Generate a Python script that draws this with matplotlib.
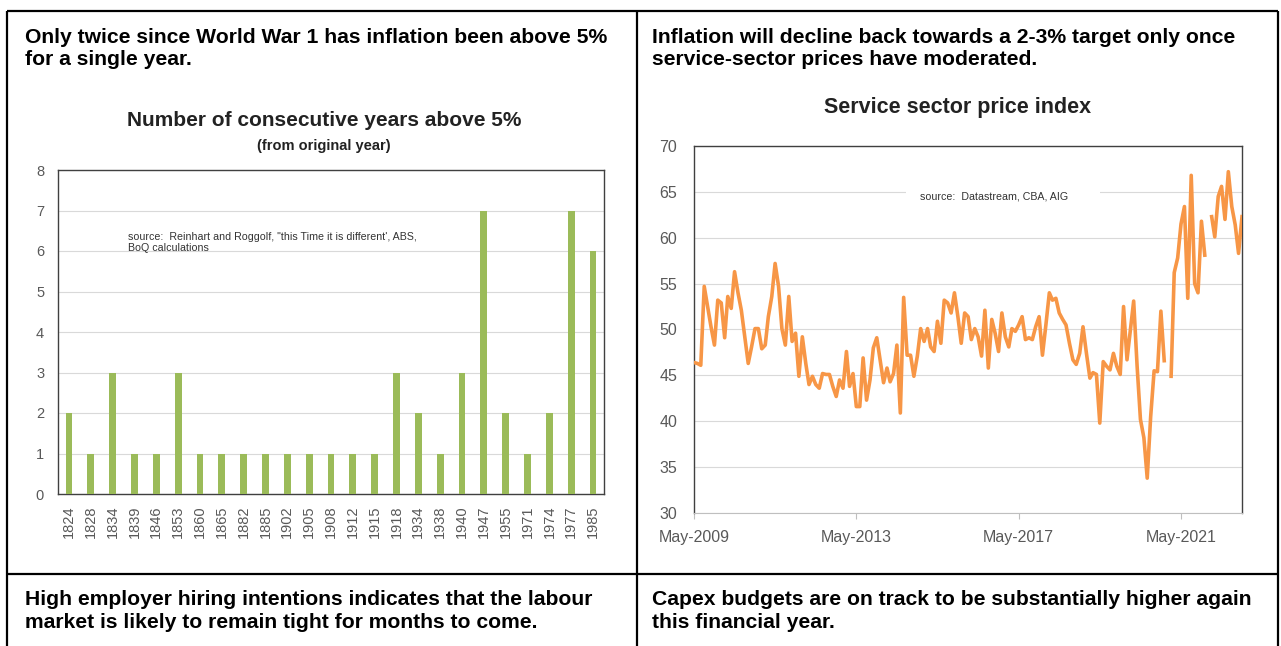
import numpy as np
import pandas as pd
import matplotlib
matplotlib.use("Agg")
import matplotlib.pyplot as plt
import matplotlib.dates as mdates
from matplotlib.patches import Rectangle

plt.rcParams["font.family"] = ["Liberation Sans", "DejaVu Sans"]

W, H = 1281, 646
GRID = "#D9D9D9"
TICK = "#595959"

# ---- left chart: consecutive years above 5% ----
start_years = ["1824", "1828", "1834", "1839", "1846", "1853", "1860", "1865", "1882",
               "1885", "1902", "1905", "1908", "1912", "1915", "1918", "1934", "1938",
               "1940", "1947", "1955", "1971", "1974", "1977", "1985"]
years_above = [2, 1, 3, 1, 1, 3, 1, 1, 1, 1, 1, 1, 1, 1, 1, 3, 2, 1, 3, 7, 2, 1, 2, 7, 6]

# ---- right chart: service sector price index (monthly from May-2009) ----
svc_start = "2009-05-01"
svc_index = [
    46.4, 46.3, 46.1, 54.7, 52.5, 50.3, 48.3, 53.2, 52.9, 49.1, 53.6, 52.3, 56.3, 54.0,
    52.1, 49.2, 46.3, 48.1, 50.1, 50.1, 47.9, 48.3, 51.4, 53.6, 57.2, 54.7, 50.1, 48.3,
    53.6, 48.7, 49.6, 44.9, 49.2, 46.3, 44.0, 44.9, 44.0, 43.6, 45.2, 45.1, 45.1, 43.8,
    42.7, 44.5, 43.6, 47.6, 43.8, 45.2, 41.6, 41.6, 46.9, 42.3, 44.5, 48.0, 49.1, 46.7,
    44.2, 45.8, 44.3, 45.2, 48.3, 40.9, 53.5, 47.2, 47.2, 44.9, 47.1, 50.1, 48.7, 50.1,
    48.1, 47.6, 50.9, 48.5, 53.2, 52.9, 51.8, 54.0, 51.4, 48.5, 51.8, 51.4, 48.9,
    50.1, 49.2, 47.1, 52.1, 45.8, 51.1, 49.6, 47.6, 51.8, 49.2, 48.1, 50.1, 49.8, 50.5,
    51.4, 48.9, 49.1, 48.9, 50.3, 51.4, 47.2, 50.5, 54.0, 53.2, 53.4, 51.8, 51.1, 50.5,
    48.5, 46.7, 46.2, 47.4, 50.3, 47.4, 44.7, 45.3, 45.1, 39.8,
    46.5, 46.0, 45.6, 47.4, 46.0, 45.1, 52.5, 46.7, 50.0, 53.1, 46.0, 40.2, 38.2, 33.8,
    40.5, 45.5, 45.4, 52.0, 46.6, np.nan, 44.9, 56.2, 57.8, 61.5, 63.4, 53.4, 66.8, 55.0,
    54.0, 61.8, 58.1, np.nan, 62.3, 60.1, 64.5, 65.6, 62.0, 67.2, 63.4, 61.4, 58.3, 62.3,
]
svc_ticks = ["2009-05-01", "2013-05-01", "2017-05-01", "2021-05-01"]

headers = [
    (25, 48.5, "Only twice since World War 1 has inflation been above 5%\nfor a single year."),
    (652, 48.5, "Inflation will decline back towards a 2-3% target only once\nservice-sector prices have moderated."),
    (25, 611, "High employer hiring intentions indicates that the labour\nmarket is likely to remain tight for months to come."),
    (652, 611, "Capex budgets are on track to be substantially higher again\nthis financial year."),
]


def px_axes(fig, x0, y0, x1, y1):
    return fig.add_axes([x0 / W, 1 - y1 / H, (x1 - x0) / W, (y1 - y0) / H])


fig = plt.figure(figsize=(W / 100, H / 100), dpi=100)
fig.patch.set_facecolor("white")

# page frame and text cells
bg = fig.add_axes([0, 0, 1, 1])
bg.set_xlim(0, W)
bg.set_ylim(H, 0)
bg.axis("off")
frame = dict(color="black", lw=1.6, solid_capstyle="butt")
bg.plot([7, 1278], [11, 11], **frame)
bg.plot([7, 1278], [574, 574], **frame)
bg.plot([7, 7], [11, H], **frame)
bg.plot([637, 637], [11, H], **frame)
bg.plot([1278, 1278], [11, H], **frame)
for x, y, txt in headers:
    bg.text(x, y, txt, fontsize=15.2, fontweight="bold", va="center", ha="left",
            linespacing=1.22)

# ---- bar chart ----
bg.text(324, 121, "Number of consecutive years above 5%", fontsize=15,
        fontweight="bold", ha="center", va="center", color="#222222")
bg.text(324, 146, "(from original year)", fontsize=10.5,
        fontweight="bold", ha="center", va="center", color="#222222")

ax1 = px_axes(fig, 58, 170, 604, 494)
pos = np.arange(len(start_years))
ax1.bar(pos, years_above, width=0.31, color="#9BBB59", zorder=3)
ax1.set_xlim(-0.5, len(start_years) - 0.5)
ax1.set_ylim(0, 8)
ax1.set_yticks(range(0, 9))
ax1.set_xticks(pos)
ax1.set_xticklabels(start_years, rotation=90)
ax1.tick_params(axis="both", length=0, colors=TICK, labelsize=10.5)
ax1.tick_params(axis="y", pad=10)
ax1.tick_params(axis="x", pad=8)
ax1.grid(axis="y", color=GRID, lw=0.8)
ax1.set_axisbelow(True)
for side in ["top", "right", "left", "bottom"]:
    ax1.spines[side].set_color("#404040")
    ax1.spines[side].set_linewidth(1.0)
ax1.text(0.128, 0.81, "source:  Reinhart and Roggolf, \"this Time it is different', ABS,\nBoQ calculations",
         transform=ax1.transAxes, fontsize=7.7, color="#333333", va="top", ha="left",
         linespacing=1.2)

# ---- line chart ----
bg.text(958, 107, "Service sector price index", fontsize=15.5,
        fontweight="bold", ha="center", va="center", color="#222222")

ax2 = px_axes(fig, 694, 146, 1242, 513)
dates = pd.date_range(svc_start, periods=len(svc_index), freq="MS")
ax2.plot(dates, svc_index, color="#F79646", lw=2.6, zorder=3, solid_joinstyle="round")
ax2.set_xlim(dates[0], dates[-1])
ax2.set_ylim(30, 70)
ax2.set_yticks(range(30, 71, 5))
ax2.set_xticks(pd.to_datetime(svc_ticks))
ax2.xaxis.set_major_formatter(mdates.DateFormatter("%b-%Y"))
ax2.tick_params(axis="y", length=0, pad=12, colors=TICK, labelsize=11.5)
ax2.tick_params(axis="x", length=4, width=0.8, color="#BFBFBF", pad=8, colors=TICK,
                labelsize=11.5)
ax2.grid(axis="y", color=GRID, lw=0.8)
ax2.set_axisbelow(True)
for side in ["top", "right", "left"]:
    ax2.spines[side].set_color("#404040")
    ax2.spines[side].set_linewidth(1.0)
ax2.spines["bottom"].set_color("#BFBFBF")
ax2.add_patch(Rectangle((0.387, 0.8), 0.354, 0.1, transform=ax2.transAxes,
                        facecolor="white", edgecolor="none", zorder=1.5))
ax2.text(0.412, 0.862, "source:  Datastream, CBA, AIG", transform=ax2.transAxes,
         fontsize=7.7, color="#333333", va="center", ha="left", zorder=2)

fig.savefig("out.png", dpi=100, facecolor="white")
